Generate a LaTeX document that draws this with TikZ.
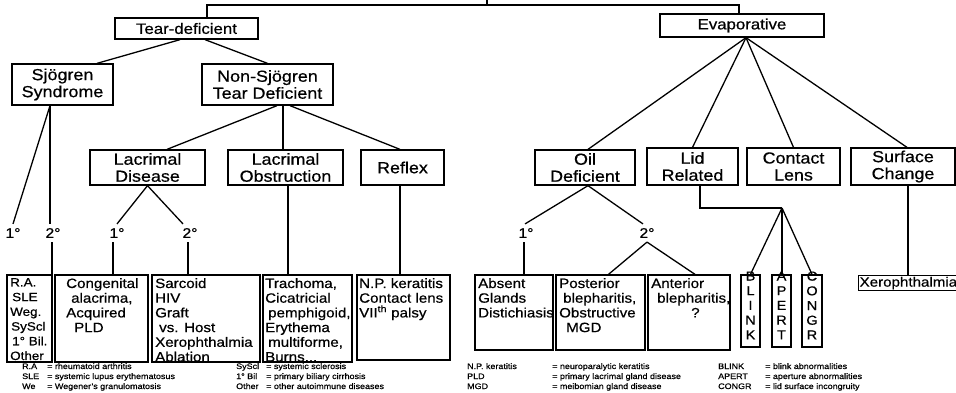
\documentclass[tikz,border=0pt]{standalone}
\usepackage{fontspec}
\setmainfont{Liberation Sans}[FakeStretch=1.12,FakeBold=0.6]
\begin{document}
\begin{tikzpicture}[x=1pt,y=-1pt,
  box/.style={draw, line width=1.3pt, inner sep=0pt, align=center},
  ln/.style={line width=1.3pt},
  ftit/.style={font=\fontsize{15}{16}\selectfont},
  fmid/.style={font=\fontsize{16}{17}\selectfont},
  deg/.style={inner sep=4pt, font=\fontsize{14}{14}\selectfont},
  bt/.style={anchor=north west, inner sep=0pt, align=left, font=\fontsize{13.5}{14.7}\selectfont},
  vt/.style={anchor=north, inner sep=0pt, align=center, font=\fontsize{13}{14.7}\selectfont},
  lg/.style={anchor=base west, inner sep=0pt, font=\fontsize{8}{8}\selectfont}]

\useasboundingbox (0,0) rectangle (956,392);

% level 1
\node[box, ftit, minimum width=143, minimum height=21] (td) at (186.5,28.5) {Tear-deficient};
\node[box, ftit, minimum width=164, minimum height=23] (ev) at (742,25.5) {Evaporative};
% level 2
\node[box, fmid, minimum width=101, minimum height=41] (sj) at (62.5,84.5) {Sjögren\\Syndrome};
\node[box, fmid, minimum width=131, minimum height=41] (ns) at (267.5,84.5) {Non-Sjögren\\Tear Deficient};
% level 3
\node[box, fmid, minimum width=115, minimum height=35] (ld) at (147.5,167.5) {Lacrimal\\Disease};
\node[box, fmid, minimum width=115, minimum height=35] (lo) at (285.5,167.5) {Lacrimal\\Obstruction};
\node[box, fmid, minimum width=83, minimum height=35] (rf) at (402.5,167.5) {Reflex};
\node[box, fmid, minimum width=100, minimum height=35] (od) at (585,167.5) {Oil\\Deficient};
\node[box, fmid, minimum width=91, minimum height=37] (lr) at (692.5,166.5) {Lid\\Related};
\node[box, fmid, minimum width=93, minimum height=37] (cl) at (793.5,166.5) {Contact\\Lens};
\node[box, fmid, minimum width=104, minimum height=37] (sc) at (903,166.5) {Surface\\Change};

% degree labels
\node[deg] (sa1) at (13,233) {1°};
\node[deg] (sa2) at (53,233) {2°};
\node[deg] (la1) at (117,233) {1°};
\node[deg] (la2) at (190,233) {2°};
\node[deg] (oa1) at (526,233) {1°};
\node[deg] (oa2) at (647,233) {2°};

% bottom boxes
\node[box, minimum width=45, minimum height=87] (ra) at (29.5,318.5) {};
\node[box, minimum width=93, minimum height=87] (cg) at (101.5,318.5) {};
\node[box, minimum width=108, minimum height=87] (sab) at (206,318.5) {};
\node[box, minimum width=89, minimum height=87] (trb) at (307.5,318.5) {};
\node[box, minimum width=93, minimum height=85] (np) at (403.5,317.5) {};
\node[box, minimum width=78, minimum height=75] (ab) at (514,312.5) {};
\node[box, minimum width=89, minimum height=75] (po) at (600.5,312.5) {};
\node[box, minimum width=82, minimum height=75] (an) at (689,312.5) {};
\node[box, minimum width=19, minimum height=72] (bl) at (750.5,311) {};
\node[box, minimum width=19, minimum height=72] (ap) at (781.5,311) {};
\node[box, minimum width=20, minimum height=72] (co) at (812,311) {};
\node[box, anchor=north west, minimum width=98, minimum height=15, inner sep=1pt, align=left,
      font=\fontsize{13.5}{14}\selectfont] (xe) at (858,275) {Xerophthalmia};

% bottom box texts
\node[bt, font=\fontsize{12}{14.7}\selectfont] (rat) at (10,278) {R.A.\\\hspace*{2pt}SLE\\Weg.\\\hspace*{1pt}SyScl\\\hspace*{2pt}1° Bil.\\Other};
\node[bt] (cgt) at (66,278) {Congenital\\\hspace*{5pt}alacrima,\\Acquired\\\hspace*{8pt}PLD};
\node[bt] (sat) at (155,278) {Sarcoid\\HIV\\Graft\\\hspace*{4pt}vs. Host\\Xerophthalmia\\Ablation};
\node[bt] (trt) at (265,278) {Trachoma,\\Cicatricial\\\hspace*{3pt}pemphigoid,\\Erythema\\\hspace*{3pt}multiforme,\\Burns...};
\node[bt] (npt) at (359,278) {N.P. keratitis\\Contact lens\\VII\textsuperscript{th} palsy};
\node[bt] (abt) at (478,278) {Absent\\Glands\\Distichiasis};
\node[bt] (pot) at (559,278) {Posterior\\\hspace*{4pt}blepharitis,\\Obstructive\\\hspace*{7pt}MGD};
\node[bt] (ant) at (651,278) {Anterior\\\hspace*{6pt}blepharitis,\\\hspace*{40pt}?};
\node[vt] (blt) at ([yshift=3]bl.north) {B\\L\\I\\N\\K};
\node[vt] (apt) at ([yshift=3]ap.north) {A\\P\\E\\R\\T};
\node[vt] (cot) at ([yshift=3]co.north) {C\\O\\N\\G\\R};

% connectors
\coordinate (topl) at (207,5);
\coordinate (topr) at (739,5);
\coordinate (rootc) at (487,0);
\draw[ln] (topl |- td.north) -- (topl) -- (topr) -- (topr |- ev.north);
\draw[ln] (rootc) -- (rootc |- topl);

\draw[ln] ([xshift=-6.5]td.south) -- ([xshift=34.5]sj.north);
\draw[ln] ([xshift=18.5]td.south) -- (ns.north);

\draw[ln] ([xshift=-12.5]sj.south) coordinate (sjb) -- (sa1.north);
\draw[ln] (sjb) -- (sjb |- sa2.north);
\draw[ln] ([xshift=-1]sa2.south) -- ([xshift=-1]sa2.south |- ra.north);

\draw[ln] ([xshift=9.5]ns.south) -- ([xshift=19.5]ld.north);
\draw[ln] ([xshift=15.5]ns.south) -- ([xshift=15.5]ns.south |- lo.north);
\draw[ln] ([xshift=22.5]ns.south) -- ([xshift=-2.5]rf.north);

\draw[ln] (ld.south) -- (la1.north);
\draw[ln] (ld.south) -- ([xshift=-7]la2.north);
\draw[ln] ([xshift=-4]la1.south) -- ([xshift=-4]la1.south |- cg.north);
\draw[ln] ([xshift=-2]la2.south) -- ([xshift=-2]la2.south |- sab.north);
\draw[ln] ([xshift=2.5]lo.south) -- ([xshift=2.5]lo.south |- trb.north);
\draw[ln] ([xshift=-2.5]rf.south) -- ([xshift=-2.5]rf.south |- np.north);

\draw[ln] ([xshift=4]ev.south) coordinate (evb) -- ([xshift=3]od.north);
\draw[ln] (evb) -- (lr.north);
\draw[ln] (evb) -- (cl.north);
\draw[ln] (evb) -- ([xshift=4]sc.north);

\draw[ln] ([xshift=3]od.south) -- ([xshift=-1]oa1.north);
\draw[ln] ([xshift=3]od.south) -- ([xshift=-4]oa2.north);
\draw[ln] ([xshift=-2]oa1.south) -- ([xshift=-2]oa1.south |- ab.north);
\draw[ln] (oa2.south) -- ([xshift=8]po.north);
\draw[ln] (oa2.south) -- ([xshift=6]an.north);

\coordinate (lrj) at (782,208);
\draw[ln] ([xshift=7.5]lr.south) |- (lrj);
\draw[ln] (lrj) -- (bl.north);
\draw[ln] (lrj) -- (lrj |- ap.north);
\draw[ln] (lrj) -- (co.north);
\draw[ln] ([xshift=5]sc.south) -- ([xshift=5]sc.south |- xe.north);

% legend
\node[lg] (k1) at (22,369) {R.A};
\node[lg] (v1) at (47,369) {= rheumatoid arthritis};
\node[lg] (k2) at (22,379) {SLE};
\node[lg] (v2) at (47,379) {= systemic lupus erythematosus};
\node[lg] (k3) at (22,389) {We};
\node[lg] (v3) at (47,389) {= Wegener's granulomatosis};
\node[lg] (k4) at (236,369) {SyScl};
\node[lg] (v4) at (266,369) {= systemic sclerosis};
\node[lg] (k5) at (236,379) {1° Bil};
\node[lg] (v5) at (266,379) {= primary biliary cirrhosis};
\node[lg] (k6) at (236,389) {Other};
\node[lg] (v6) at (266,389) {= other autoimmune diseases};
\node[lg] (k7) at (467,369) {N.P. keratitis};
\node[lg] (v7) at (552,369) {= neuroparalytic keratitis};
\node[lg] (k8) at (467,379) {PLD};
\node[lg] (v8) at (552,379) {= primary lacrimal gland disease};
\node[lg] (k9) at (467,389) {MGD};
\node[lg] (v9) at (552,389) {= meibomian gland disease};
\node[lg] (k10) at (718,369) {BLINK};
\node[lg] (v10) at (765,369) {= blink abnormalities};
\node[lg] (k11) at (718,379) {APERT};
\node[lg] (v11) at (765,379) {= aperture abnormalities};
\node[lg] (k12) at (718,389) {CONGR};
\node[lg] (v12) at (765,389) {= lid surface incongruity};
\end{tikzpicture}
\end{document}
